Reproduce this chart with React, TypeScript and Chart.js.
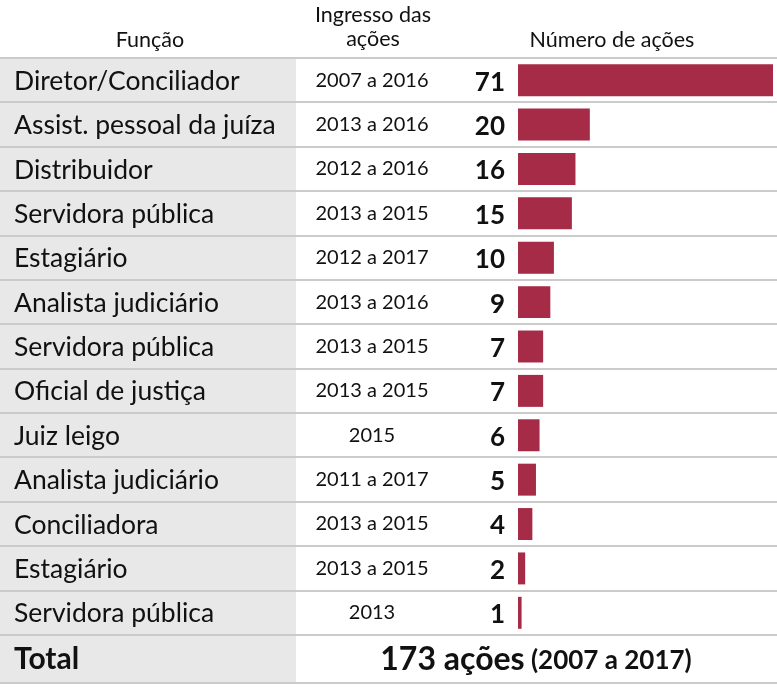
import React, { useEffect, useRef } from "react";
import { Chart, registerables } from "chart.js";

Chart.register(...registerables);

const functions = [
  "Diretor/Conciliador",
  "Assist. pessoal da juíza",
  "Distribuidor",
  "Servidora pública",
  "Estagiário",
  "Analista judiciário",
  "Servidora pública",
  "Oficial de justiça",
  "Juiz leigo",
  "Analista judiciário",
  "Conciliadora",
  "Estagiário",
  "Servidora pública",
];
const periods = [
  "2007 a 2016",
  "2013 a 2016",
  "2012 a 2016",
  "2013 a 2015",
  "2012 a 2017",
  "2013 a 2016",
  "2013 a 2015",
  "2013 a 2015",
  "2015",
  "2011 a 2017",
  "2013 a 2015",
  "2013 a 2015",
  "2013",
];
const actions = [71, 20, 16, 15, 10, 9, 7, 7, 6, 5, 4, 2, 1];
const headerFunction = "Função";
const headerPeriod = ["Ingresso das", "ações"];
const headerActions = "Número de ações";
const totalLabel = "Total";
const totalMain = "173 ações";
const totalSub = " (2007 a 2017)";

const FONT = "Lato, 'Noto Sans', sans-serif";
const BAR = "#a52b46";
const GREY_BG = "#e7e8e7";
const LINE = "#cbcbcb";

const tablePlugin = {
  id: "tablePlugin",
  beforeDatasetsDraw(chart: any) {
    const ctx = chart.ctx;
    const area = chart.chartArea;
    const n = functions.length;
    const rowH = (area.bottom - area.top) / n;
    const totalBottom = area.bottom + 48;
    ctx.save();
    ctx.fillStyle = GREY_BG;
    ctx.fillRect(0, area.top, 296, totalBottom - area.top);
    ctx.strokeStyle = LINE;
    ctx.lineWidth = 2;
    for (let i = 0; i <= n; i++) {
      const y = Math.round(area.top + i * rowH);
      ctx.beginPath();
      ctx.moveTo(0, y);
      ctx.lineTo(chart.width, y);
      ctx.stroke();
    }
    ctx.beginPath();
    ctx.moveTo(0, totalBottom);
    ctx.lineTo(chart.width, totalBottom);
    ctx.stroke();
    ctx.restore();
  },
  afterDraw(chart: any) {
    const ctx = chart.ctx;
    const area = chart.chartArea;
    const yScale = chart.scales.y;
    ctx.save();
    ctx.fillStyle = "#111";
    ctx.textBaseline = "middle";
    // headers
    ctx.font = `21.5px ${FONT}`;
    ctx.textAlign = "center";
    ctx.fillText(headerFunction, 150, 40);
    ctx.fillText(headerPeriod[0], 373, 15);
    ctx.fillText(headerPeriod[1], 373, 39);
    ctx.fillText(headerActions, 612, 40);
    // rows
    functions.forEach((f, i) => {
      const y = yScale.getPixelForValue(i) + 1;
      ctx.font = `26.5px ${FONT}`;
      ctx.textAlign = "left";
      ctx.fillText(f, 14, y);
      ctx.font = `20px ${FONT}`;
      ctx.textAlign = "center";
      ctx.fillText(periods[i], 372, y - 1);
      ctx.font = `bold 26px ${FONT}`;
      ctx.textAlign = "right";
      ctx.fillText(String(actions[i]), 505, y + 1);
    });
    // total row
    const ty = area.bottom + 25;
    ctx.font = `bold 30px ${FONT}`;
    ctx.textAlign = "left";
    ctx.fillText(totalLabel, 14, ty - 1);
    ctx.font = `bold 32px ${FONT}`;
    const w1 = ctx.measureText(totalMain).width;
    ctx.font = `bold 26px ${FONT}`;
    const w2 = ctx.measureText(totalSub).width;
    const startX = 536 - (w1 + w2) / 2;
    ctx.font = `bold 32px ${FONT}`;
    ctx.fillText(totalMain, startX, ty);
    ctx.font = `bold 26px ${FONT}`;
    ctx.fillText(totalSub, startX + w1, ty + 1);
    ctx.restore();
  },
};

export default function App() {
  const ref = useRef<HTMLCanvasElement | null>(null);
  useEffect(() => {
    document.body.style.margin = "0";
    const chart = new Chart(ref.current as HTMLCanvasElement, {
      type: "bar",
      data: {
        labels: functions,
        datasets: [
          {
            data: actions,
            backgroundColor: BAR,
            barPercentage: 0.72,
            categoryPercentage: 1,
          },
        ],
      },
      options: {
        indexAxis: "y",
        animation: false,
        responsive: false,
        layout: { padding: { left: 518, right: 4, top: 58, bottom: 53 } },
        scales: {
          x: { display: false, min: 0, max: 71 },
          y: { display: false },
        },
        plugins: { legend: { display: false }, tooltip: { enabled: false } },
      },
      plugins: [tablePlugin],
    } as any);
    return () => chart.destroy();
  }, []);
  return (
    <div style={{ width: 777, height: 688, background: "#fff" }}>
      <canvas ref={ref} width={777} height={688} />
    </div>
  );
}
